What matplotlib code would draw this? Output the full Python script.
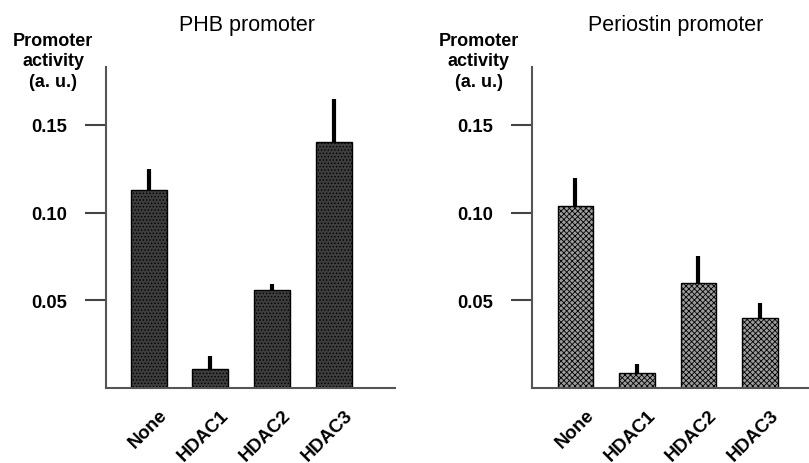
import numpy as np
import matplotlib
matplotlib.use('Agg')
import matplotlib.pyplot as plt
from matplotlib.transforms import ScaledTranslation

plt.rcParams['font.family'] = ['Liberation Sans', 'DejaVu Sans']
plt.rcParams['hatch.linewidth'] = 0.6

# data
groups = ['None', 'HDAC1', 'HDAC2', 'HDAC3']
phb_vals = [0.113, 0.011, 0.056, 0.140]
phb_err = [0.012, 0.007, 0.0035, 0.0245]
peri_vals = [0.1035, 0.0087, 0.060, 0.040]
peri_err = [0.0165, 0.0047, 0.015, 0.0085]
yticks = [0.05, 0.10, 0.15]
yticklabels = ['0.05', '0.10', '0.15']

fig = plt.figure(figsize=(8.09, 4.64), dpi=100)

# axes rects in figure fraction (from pixel positions in the reference)
ax1 = fig.add_axes([106/809, 1-389/464, 289/809, 321/464])
ax2 = fig.add_axes([532/809, 1-389/464, 277/809, 321/464])

def draw_panel(ax, vals, errs, face, hatch, xlim):
    x = np.arange(len(groups))
    ax.bar(x, vals, width=0.58, color=face, edgecolor='black', linewidth=1.0,
           hatch=hatch, zorder=2)
    ax.errorbar(x, vals, yerr=[np.zeros(len(errs)), errs], fmt='none',
                ecolor='black', elinewidth=3, capsize=0, zorder=3)
    ax.set_xlim(*xlim)
    ax.set_ylim(0, 0.183)
    ax.set_yticks(yticks)
    ax.set_yticklabels(yticklabels, fontsize=13.3, fontweight='bold')
    ax.set_xticks(x)
    ax.set_xticklabels([])
    # rotated category labels, shifted so their ends sit under the bars
    off = ax.get_xaxis_transform() + ScaledTranslation(10/100, -18/100, fig.dpi_scale_trans)
    for xi, g in zip(x, groups):
        ax.text(xi, 0, g, transform=off, rotation=45, ha='right', va='top',
                rotation_mode='anchor', fontsize=13.5, fontweight='bold')
    ax.tick_params(axis='x', length=0)
    ax.tick_params(axis='y', length=15, width=1.5, color='#444444', pad=13)
    for s in ['top', 'right']:
        ax.spines[s].set_visible(False)
    for s in ['left', 'bottom']:
        ax.spines[s].set_color('#555555')
        ax.spines[s].set_linewidth(1.5)

draw_panel(ax1, phb_vals, phb_err, '#3d3d3d', '.....', (-0.69, 3.99))
draw_panel(ax2, peri_vals, peri_err, '#9c9c9c', 'xxxxxx', (-0.706, 3.8))

fig.text(247/809, 1-25/464, 'PHB promoter', fontsize=15.5, ha='center', va='center')
fig.text(676/809, 1-25/464, 'Periostin promoter', fontsize=15.5, ha='center', va='center')

ylab = 'Promoter\nactivity\n(a. u.)'
fig.text(53/809, 1-62/464, ylab, fontsize=13, fontweight='bold', ha='center',
         va='center', linespacing=1.25)
fig.text(479/809, 1-62/464, ylab, fontsize=13, fontweight='bold', ha='center',
         va='center', linespacing=1.25)

fig.savefig('out.png', dpi=100)
